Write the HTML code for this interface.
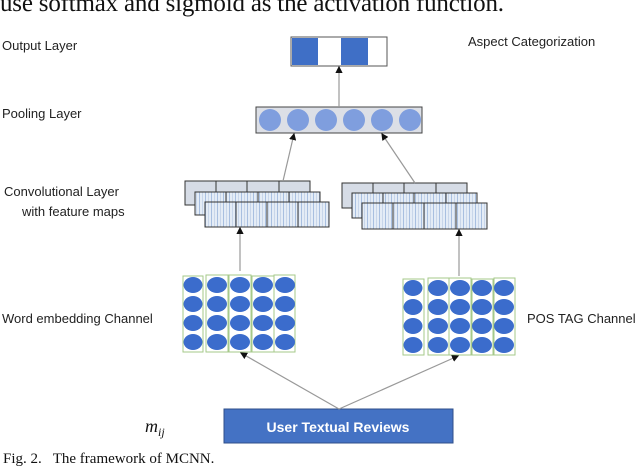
<!DOCTYPE html>
<html><head><meta charset="utf-8"><style>
body{margin:0;background:#fff;width:640px;height:469px;overflow:hidden}
svg{display:block}
.l{font-family:"Liberation Sans",sans-serif;font-size:13px;fill:#222}
</style></head><body>
<svg width="640" height="469" viewBox="0 0 640 469" xmlns="http://www.w3.org/2000/svg">
<defs>
<marker id="a" markerWidth="6" markerHeight="6" refX="5" refY="3" orient="auto"><path d="M0,0 L6,3 L0,6z" fill="#111"/></marker>
<pattern id="st" width="6" height="10" patternUnits="userSpaceOnUse"><rect width="6" height="10" fill="#e4ecf6"/><rect x="1" width="1" height="10" fill="#a8bfe0"/><rect x="4" width="1" height="10" fill="#c8d6ea"/></pattern>
</defs>
<text x="0" y="11" font-family="Liberation Serif,serif" font-size="25" fill="#111" textLength="504">use softmax and sigmoid as the activation function.</text>
<text class="l" x="2" y="50">Output Layer</text>
<text class="l" x="468" y="46">Aspect Categorization</text>
<text class="l" x="2" y="118">Pooling Layer</text>
<text class="l" x="4" y="196">Convolutional Layer</text>
<text class="l" x="22" y="216">with feature maps</text>
<text class="l" x="2" y="323" font-size="14.5">Word embedding Channel</text>
<text class="l" x="527" y="323" font-size="14.5">POS TAG Channel</text>
<text x="145" y="432" font-family="Liberation Serif,serif" font-style="italic" font-size="18" fill="#111">m<tspan font-size="12" dy="4">ij</tspan></text>
<text x="3" y="463" font-family="Liberation Serif,serif" font-size="15" fill="#111" xml:space="preserve">Fig. 2.   The framework of MCNN.</text>
<!-- output -->
<rect x="291" y="37" width="96" height="29" fill="#fff" stroke="#555"/>
<rect x="292" y="38" width="26" height="27" fill="#3f6fc6"/>
<rect x="341" y="38" width="27" height="27" fill="#3f6fc6"/>
<!-- pooling -->
<rect x="256" y="107" width="166" height="26" fill="#dcdfe6" stroke="#444"/>
<g fill="#7f9ede"><ellipse cx="270" cy="120" rx="11" ry="11"/><ellipse cx="298" cy="120" rx="11" ry="11"/><ellipse cx="326" cy="120" rx="11" ry="11"/><ellipse cx="354" cy="120" rx="11" ry="11"/><ellipse cx="382" cy="120" rx="11" ry="11"/><ellipse cx="410" cy="120" rx="11" ry="11"/></g>
<!-- conv -->
<g stroke="#333" stroke-width="1">
<rect x="185" y="181" width="125" height="24" fill="#d6dce6"/>
<line x1="216" y1="181" x2="216" y2="205"/><line x1="247" y1="181" x2="247" y2="205"/><line x1="279" y1="181" x2="279" y2="205"/>
<rect x="195" y="192" width="125" height="23" fill="url(#st)"/>
<line x1="226" y1="192" x2="226" y2="215"/><line x1="258" y1="192" x2="258" y2="215"/><line x1="289" y1="192" x2="289" y2="215"/>
<rect x="205" y="202" width="124" height="25" fill="url(#st)"/>
<line x1="236" y1="202" x2="236" y2="227"/><line x1="267" y1="202" x2="267" y2="227"/><line x1="298" y1="202" x2="298" y2="227"/>
<rect x="342" y="183" width="125" height="25" fill="#d6dce6"/>
<line x1="373" y1="183" x2="373" y2="208"/><line x1="404" y1="183" x2="404" y2="208"/><line x1="436" y1="183" x2="436" y2="208"/>
<rect x="352" y="193" width="125" height="25" fill="url(#st)"/>
<line x1="383" y1="193" x2="383" y2="218"/><line x1="414" y1="193" x2="414" y2="218"/><line x1="446" y1="193" x2="446" y2="218"/>
<rect x="362" y="203" width="125" height="26" fill="url(#st)"/>
<line x1="393" y1="203" x2="393" y2="229"/><line x1="424" y1="203" x2="424" y2="229"/><line x1="456" y1="203" x2="456" y2="229"/>
</g>
<!-- grids -->
<g stroke="#a6c98a" fill="none"><rect x="183" y="276" width="20" height="76"/><rect x="206" y="275" width="22" height="77"/><rect x="229" y="275" width="22" height="77"/><rect x="252" y="276" width="22" height="76"/><rect x="274" y="275" width="21" height="77"/></g>
<g fill="#3b6ccc">
<ellipse cx="193" cy="285" rx="9.5" ry="8"/><ellipse cx="193" cy="304" rx="9.5" ry="8"/><ellipse cx="193" cy="323" rx="9.5" ry="8"/><ellipse cx="193" cy="342" rx="9.5" ry="8"/>
<ellipse cx="217" cy="285" rx="10" ry="8"/><ellipse cx="217" cy="304" rx="10" ry="8"/><ellipse cx="217" cy="323" rx="10" ry="8"/><ellipse cx="217" cy="342" rx="10" ry="8"/>
<ellipse cx="240" cy="285" rx="10" ry="8"/><ellipse cx="240" cy="304" rx="10" ry="8"/><ellipse cx="240" cy="323" rx="10" ry="8"/><ellipse cx="240" cy="342" rx="10" ry="8"/>
<ellipse cx="263" cy="285" rx="10" ry="8"/><ellipse cx="263" cy="304" rx="10" ry="8"/><ellipse cx="263" cy="323" rx="10" ry="8"/><ellipse cx="263" cy="342" rx="10" ry="8"/>
<ellipse cx="285" cy="285" rx="10" ry="8"/><ellipse cx="285" cy="304" rx="10" ry="8"/><ellipse cx="285" cy="323" rx="10" ry="8"/><ellipse cx="285" cy="342" rx="10" ry="8"/>
</g>
<g stroke="#a6c98a" fill="none"><rect x="403" y="279" width="21" height="76"/><rect x="428" y="278" width="21" height="77"/><rect x="449" y="278" width="22" height="77"/><rect x="472" y="279" width="21" height="76"/><rect x="494" y="278" width="21" height="77"/></g>
<g fill="#3b6ccc">
<ellipse cx="413" cy="288" rx="9.5" ry="8"/><ellipse cx="413" cy="307" rx="9.5" ry="8"/><ellipse cx="413" cy="326" rx="9.5" ry="8"/><ellipse cx="413" cy="345" rx="9.5" ry="8"/>
<ellipse cx="438" cy="288" rx="10" ry="8"/><ellipse cx="438" cy="307" rx="10" ry="8"/><ellipse cx="438" cy="326" rx="10" ry="8"/><ellipse cx="438" cy="345" rx="10" ry="8"/>
<ellipse cx="460" cy="288" rx="10" ry="8"/><ellipse cx="460" cy="307" rx="10" ry="8"/><ellipse cx="460" cy="326" rx="10" ry="8"/><ellipse cx="460" cy="345" rx="10" ry="8"/>
<ellipse cx="482" cy="288" rx="10" ry="8"/><ellipse cx="482" cy="307" rx="10" ry="8"/><ellipse cx="482" cy="326" rx="10" ry="8"/><ellipse cx="482" cy="345" rx="10" ry="8"/>
<ellipse cx="504" cy="288" rx="10" ry="8"/><ellipse cx="504" cy="307" rx="10" ry="8"/><ellipse cx="504" cy="326" rx="10" ry="8"/><ellipse cx="504" cy="345" rx="10" ry="8"/>
</g>
<!-- reviews -->
<rect x="224" y="409" width="229" height="34" fill="#4472c4" stroke="#2f4f8a"/>
<text x="338" y="432" text-anchor="middle" font-family="Liberation Sans,sans-serif" font-weight="bold" font-size="14" fill="#fff">User Textual Reviews</text>
<!-- arrows -->
<g stroke="#999" stroke-width="1.2" marker-end="url(#a)" fill="none">
<line x1="339" y1="107" x2="339" y2="67"/>
<line x1="283" y1="181" x2="294" y2="134"/>
<line x1="415" y1="183" x2="382" y2="134"/>
<line x1="240" y1="271" x2="240" y2="228"/>
<line x1="459" y1="276" x2="459" y2="230"/>
<line x1="339" y1="409" x2="241" y2="353"/>
<line x1="339" y1="409" x2="458" y2="356"/>
</g>
</svg>
</body></html>
